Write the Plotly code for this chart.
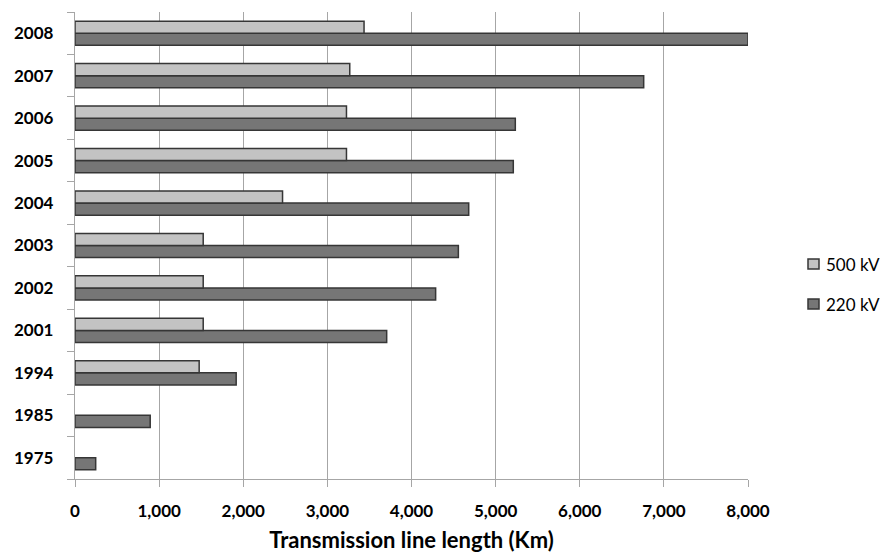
import plotly.graph_objects as go

# Transmission line length by year and voltage level (km)
years = ["1975", "1985", "1994", "2001", "2002", "2003", "2004", "2005", "2006", "2007", "2008"]
kv500 = [None, None, 1476, 1524, 1524, 1524, 2467, 3227, 3227, 3266, 3436]
kv220 = [246, 894, 1916, 3705, 4287, 4557, 4680, 5210, 5234, 6760, 8000]
x_ticks = [0, 1000, 2000, 3000, 4000, 5000, 6000, 7000, 8000]
x_tick_text = ["0", "1,000", "2,000", "3,000", "4,000", "5,000", "6,000", "7,000", "8,000"]

FONT = "Lato, 'Open Sans', sans-serif"
OUTLINE_COLOR = "#363636"
OUTLINE = dict(color=OUTLINE_COLOR, width=1.5)
COLOR_500 = "#c3c3c3"
COLOR_220 = "#767676"

fig = go.Figure()
# 220 kV first so that it sits below the 500 kV bar inside each group
fig.add_trace(go.Bar(
    y=years, x=kv220, orientation="h", name="220 kV",
    marker=dict(color=COLOR_220, line=OUTLINE),
))
fig.add_trace(go.Bar(
    y=years, x=kv500, orientation="h", name="500 kV",
    marker=dict(color=COLOR_500, line=OUTLINE),
))

# Legend drawn as swatches + labels to the right of the plot area
legend_items = [("500 kV", COLOR_500, 264), ("220 kV", COLOR_220, 304)]
H = 553
for label, color, ypix in legend_items:
    fig.add_shape(
        type="rect", xref="paper", yref="paper",
        x0=(808 - 75) / 673, x1=(819 - 75) / 673,
        y0=(479 - (ypix + 5)) / 467, y1=(479 - (ypix - 5)) / 467,
        fillcolor=color, line=dict(color=OUTLINE_COLOR, width=1.5),
    )
    fig.add_annotation(
        xref="paper", yref="paper",
        x=(824 - 75) / 673, y=(479 - ypix) / 467,
        xanchor="left", yanchor="middle", showarrow=False,
        text=label, font=dict(family=FONT, size=17, color="#000000"),
    )

fig.update_layout(
    width=883, height=H,
    margin=dict(l=75, r=135, t=12, b=74),
    paper_bgcolor="white", plot_bgcolor="white",
    barmode="group", bargap=0.43, bargroupgap=0,
    font=dict(family=FONT, color="#000000"),
    showlegend=False,
)

fig.update_xaxes(
    range=[0, 8000], automargin=False,
    tickvals=x_ticks, ticktext=x_tick_text,
    tickfont=dict(family=FONT, size=17, color="#000000", weight="bold"),
    showgrid=True, gridcolor="#a6a6a6", gridwidth=1.3,
    showline=True, linecolor="#a6a6a6", linewidth=1.3,
    ticks="outside", ticklen=7, tickcolor="#a6a6a6", tickwidth=1.3,
    ticklabelstandoff=9,
    zeroline=False,
    title=dict(text="Transmission line length (Km)",
               font=dict(family=FONT, size=22, color="#000000", weight="bold")),
)

fig.update_yaxes(
    type="category", categoryorder="array", categoryarray=years,
    automargin=False,
    tickfont=dict(family=FONT, size=17, color="#000000", weight="bold"),
    showline=True, linecolor="#a6a6a6", linewidth=1.3,
    ticks="outside", tickson="boundaries", ticklen=7,
    tickcolor="#a6a6a6", tickwidth=1.3,
    showgrid=False, ticklabelstandoff=17,
)

fig.write_html("out.html")
